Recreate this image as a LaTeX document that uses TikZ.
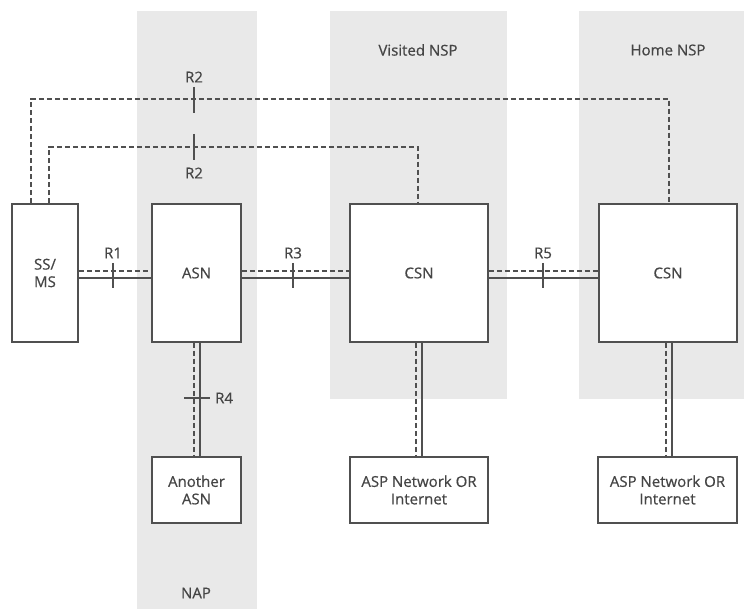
\documentclass[tikz,border=0pt]{standalone}
\usepackage{fontspec}
\setmainfont{Open Sans}
\newfontfamily\diagfont[FakeBold=0.6]{Open Sans}
\usetikzlibrary{calc}
\definecolor{bandgray}{HTML}{E9E9E9}
\definecolor{lngray}{HTML}{505050}
\definecolor{txtgray}{HTML}{454545}
\begin{document}
\begin{tikzpicture}[x=1pt,y=-1pt,
  box/.style={draw=lngray, line width=1.5pt, fill=white, inner sep=0pt, align=center, text=txtgray, font=\diagfont\fontsize{15}{17.5}\selectfont},
  solidlink/.style={draw=lngray, line width=1.5pt},
  dashlink/.style={draw=lngray, line width=1.5pt, dash pattern=on 5pt off 3pt},
  tickmark/.style={draw=lngray, line width=1.1pt},
  lbl/.style={text=txtgray, font=\diagfont\fontsize{15}{17.5}\selectfont, inner sep=0pt}]
\useasboundingbox (0,0) rectangle (744,609);
% bands
\fill[bandgray] (137,11) rectangle (257,609);
\fill[bandgray] (330,11) rectangle (507,399);
\fill[bandgray] (579,11) rectangle (744,399);
% boxes
\node[box, minimum width=66pt, minimum height=138pt] (ss) at (45,273) {SS/\\MS};
\node[box, minimum width=89pt, minimum height=138pt] (asn) at (196.5,273) {ASN};
\node[box, minimum width=138pt, minimum height=138pt] (csnv) at (419,273) {CSN};
\node[box, minimum width=138pt, minimum height=138pt] (csnh) at (668,273) {CSN};
\node[box, minimum width=89pt, minimum height=66pt] (aasn) at (196.5,490) {Another\\ASN};
\node[box, minimum width=138pt, minimum height=66pt] (asp1) at (419,490) {ASP Network OR\\Internet};
\node[box, minimum width=139pt, minimum height=66pt] (asp2) at (667.5,490) {ASP Network OR\\Internet};
% horizontal links
\foreach \a/\b in {ss/asn, asn/csnv, csnv/csnh}{
  \draw[solidlink] ([yshift=-5pt]\a.east) -- ([yshift=-5pt]\b.west);
  \draw[dashlink] ([yshift=2pt]\a.east) -- ([yshift=2pt]\b.west);
}
% vertical links
\draw[solidlink] ([xshift=3.5pt]asn.south) -- ([xshift=3.5pt]aasn.north);
\draw[dashlink] ([xshift=-2.5pt]asn.south) -- ([xshift=-2.5pt]aasn.north);
\draw[solidlink] ([xshift=3pt]csnv.south) -- ([xshift=3pt]asp1.north);
\draw[dashlink] ([xshift=-3pt]csnv.south) -- ([xshift=-3pt]asp1.north);
\draw[solidlink] ([xshift=4pt]csnh.south) -- ([xshift=4.5pt]asp2.north);
\draw[dashlink] ([xshift=-2pt]csnh.south) -- ([xshift=-1.5pt]asp2.north);
% R2 links
\coordinate (r2o) at (194,99);
\coordinate (r2i) at (194,147);
\draw[dashlink] ([xshift=-14pt]ss.north) |- (r2o) -| ([xshift=1pt]csnh.north);
\draw[dashlink] ([xshift=4pt]ss.north) |- (r2i) -| ([xshift=-1pt]csnv.north);
% ticks
\draw[tickmark] (194,87) -- (194,113);
\draw[tickmark] (194,134) -- (194,160);
\draw[tickmark] (113,263) -- (113,288);
\draw[tickmark] (293,263) -- (293,288);
\draw[tickmark] (543,263) -- (543,288);
\draw[tickmark] (184,398) -- (210,398);
% labels
\node[lbl] (lr2a) at (194,77) {R2};
\node[lbl] (lr2b) at (194,173) {R2};
\node[lbl] (lr1) at (113,253) {R1};
\node[lbl] (lr3) at (293,253) {R3};
\node[lbl] (lr5) at (543,253) {R5};
\node[lbl, anchor=west] (lr4) at (215,398) {R4};
\node[lbl] (lvis) at (418,50) {Visited NSP};
\node[lbl] (lhome) at (668,50) {Home NSP};
\node[lbl] (lnap) at (196,593) {NAP};
\end{tikzpicture}
\end{document}
